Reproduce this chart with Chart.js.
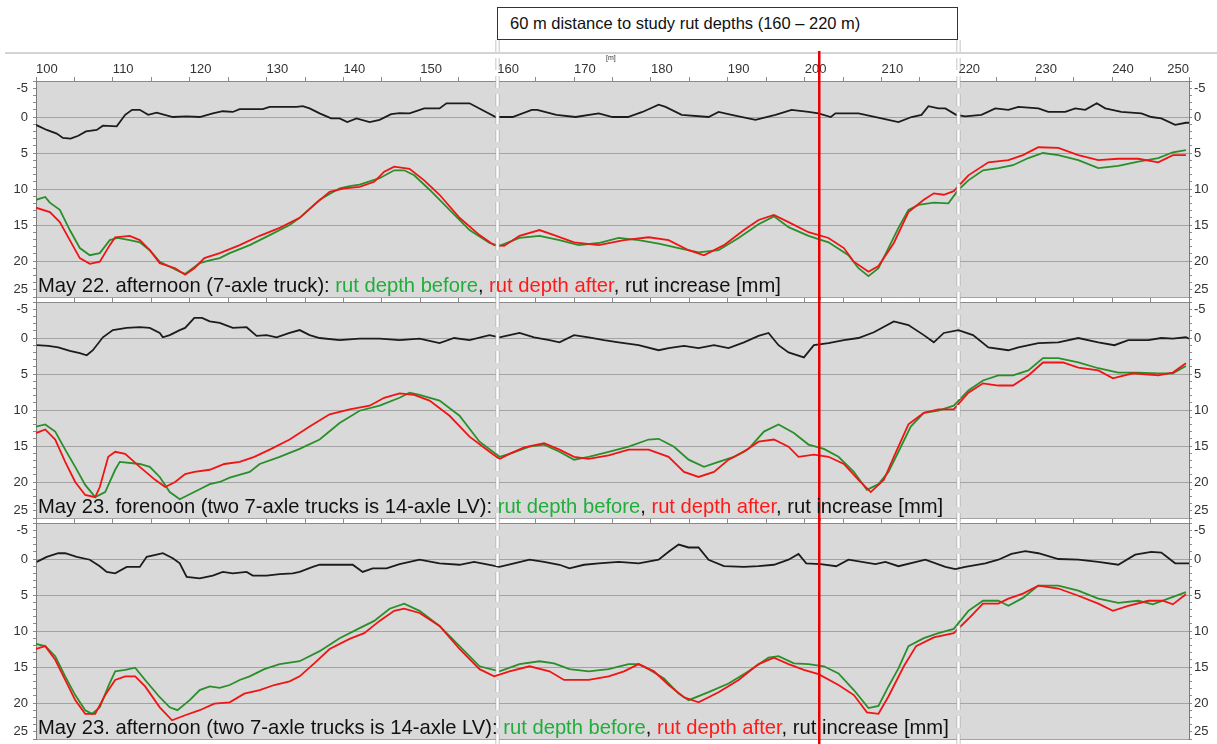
<!DOCTYPE html>
<html>
<head>
<meta charset="utf-8">
<script src="https://cdn.jsdelivr.net/npm/chart.js@4.4.0/dist/chart.umd.min.js"></script>
<style>
  html, body { margin: 0; padding: 0; background: #fff; }
  #wrap { position: relative; width: 1217px; height: 744px; overflow: hidden;
          font-family: "Liberation Sans", Arial, sans-serif; }
  #wrap canvas { position: absolute; left: 0; }
  .rule { position: absolute; left: 5px; right: 0; top: 52px; height: 2px; background: #d4d4d4; }
  .box { position: absolute; left: 497px; top: 7px; width: 461px; height: 33px;
         border: 1px solid #333; box-sizing: border-box; background: #fff;
         font-size: 16.5px; line-height: 30px; padding-left: 12px; color: #111; white-space: nowrap; }
  .unit { position: absolute; left: 606px; top: 54px; font-size: 7px; color: #333; }
  .cap { position: absolute; left: 38px; font-size: 20.2px; line-height: 20px; white-space: nowrap; color: #111; }
  .g { color: #1fae3a; }
  .r { color: #ff1a1a; }
</style>
</head>
<body>
<div id="wrap">
  <div class="rule"></div>
  <div class="box">60 m distance to study rut depths (160 – 220 m)</div>
  <canvas id="c1" width="1217" height="300" style="top:0px"></canvas>
  <canvas id="c2" width="1217" height="224" style="top:297px"></canvas>
  <canvas id="c3" width="1217" height="226" style="top:518px"></canvas>
  <div class="unit">[m]</div>
  <div class="cap" style="top:275px">May 22. afternoon (7-axle truck): <span class="g">rut depth before</span>, <span class="r">rut depth after</span>, rut increase [mm]</div>
  <div class="cap" style="top:496px">May 23. forenoon (two 7-axle trucks is 14-axle LV): <span class="g">rut depth before</span>, <span class="r">rut depth after</span>, rut increase [mm]</div>
  <div class="cap" style="top:717px">May 23. afternoon (two 7-axle trucks is 14-axle LV): <span class="g">rut depth before</span>, <span class="r">rut depth after</span>, rut increase [mm]</div>
</div>
<script>
// Distance axis (m) and depth axis (mm, drawn downwards)
const distRange = [100, 250];
const distStep = 5;
const depthRange = [-5, 25];
const depthLabelStep = 5;

// Study section borders and the marked station (m)
const studySection = [160, 220];
const markedStation = 201.9;

// ---- May 22, afternoon (7-axle truck): [distance m, depth mm]
const p1Increase = [[100,1.1],[101.4,1.8],[102.7,2.3],[103.5,2.9],[104.5,3.0],[105.5,2.6],[106.5,2.0],[107.9,1.8],[108.7,1.2],[110.5,1.3],[111.6,-0.3],[112.5,-1],[113.5,-1],[114.6,-0.3],[115.7,-0.6],[117.8,0],[119.6,-0.1],[121.3,0],[123,-0.5],[124.3,-0.8],[125.6,-0.7],[126.5,-1.1],[129.5,-1.1],[130.4,-1.4],[133.9,-1.4],[134.7,-1.5],[135.6,-1.2],[136.9,-0.5],[138.4,0.2],[139.5,0.2],[140.5,0.7],[141.7,0.2],[143.4,0.7],[144.7,0.4],[146.2,-0.4],[147.3,-0.55],[148.6,-0.5],[150.5,-1.2],[152.5,-1.2],[153.4,-1.9],[156.4,-1.9],[159.8,0],[162,0],[164.5,-1],[165.2,-1],[167.7,-0.3],[170.2,0],[173.2,-0.5],[175,0],[177,0],[178.9,-0.7],[181,-1.7],[181.9,-1.4],[184,-0.3],[187.5,0],[188.8,-0.7],[190.5,-0.3],[193.6,0.4],[196.2,-0.3],[198.3,-1],[200.5,-0.7],[201.8,-0.5],[203.4,0],[204,-0.5],[207,-0.5],[210,0.2],[212.2,0.7],[213.9,0],[215.2,-0.3],[216.1,-1.5],[217.4,-1.2],[218.3,-1.2],[219.7,-0.3],[220.9,-0.1],[223,-0.3],[224.8,-1.2],[226.5,-1],[227.8,-1.4],[230.4,-1.2],[231.7,-0.7],[233.9,-0.7],[235.2,-1.2],[236.5,-1],[238,-1.9],[239.1,-1.2],[241.2,-0.7],[243.8,-0.5],[245.1,0],[246.4,0.2],[248.2,1.1],[249.6,0.8],[250,0.8]];
const p1Before = [[100,11.5],[101.2,11.1],[101.8,11.9],[103.1,12.9],[104.4,15.7],[105.7,18.2],[107,19.2],[108.3,18.9],[109.6,17.1],[110.6,16.8],[112.2,17.1],[113.5,17.4],[114.8,18.5],[116.1,20.1],[117.4,20.8],[118.7,21.5],[119.4,21.8],[120,21.3],[121.3,20.3],[122.6,19.9],[123.9,19.6],[125.2,18.9],[127.8,17.8],[130.4,16.4],[133,15],[134.3,14],[136.9,11.5],[139.5,9.9],[140.8,9.6],[142.1,9.4],[144.7,8.5],[146.6,7.4],[147.9,7.4],[149.2,8.1],[151.2,10.1],[153.8,12.9],[156.4,15.7],[159,17.5],[160.3,17.9],[162.9,16.8],[165.5,16.5],[168.1,17.1],[170.6,17.8],[173.2,17.5],[175.8,16.8],[178.4,17.1],[181,17.6],[183.6,18.2],[186.2,18.8],[188.8,18.5],[191.4,16.8],[194,14.9],[196,13.8],[197.9,15.3],[200.5,16.5],[203.1,17.4],[205.7,19.2],[207,21],[208.3,22.1],[209.6,21],[210.9,18.2],[212.2,15.4],[213.5,12.9],[214.8,12.2],[216.8,11.9],[218.7,12],[220,10.1],[221.3,8.8],[223.2,7.4],[225.2,7.1],[227.1,6.7],[229.1,5.7],[231,5],[233,5.3],[235.6,6],[238.2,7.1],[240.8,6.8],[243.4,6.2],[246,5.7],[247.9,4.9],[249.6,4.6]];
const p1After = [[100,12.6],[101.8,13.2],[103.1,14.6],[104.4,17.1],[105.7,19.6],[107,20.4],[108.3,20.1],[109.6,17.8],[110.3,16.7],[112.2,16.5],[113.5,17.1],[114.8,18.5],[116.1,20.3],[118.1,21],[119.4,21.9],[120.6,21],[121.9,19.6],[123.9,18.9],[126.5,17.8],[129.1,16.5],[131.7,15.4],[134.3,14],[136.2,12.2],[138.2,10.4],[140.1,9.9],[142.1,9.7],[144,9],[145.3,7.6],[146.6,6.9],[148.6,7.2],[150.5,8.8],[152.5,10.8],[155.1,14],[157.7,16.4],[159.6,17.8],[160.9,17.9],[162.9,16.5],[165.5,15.7],[167.4,16.4],[170,17.4],[173.2,17.8],[176.5,17.1],[179.7,16.7],[182.3,17.1],[184.9,18.5],[186.9,19.2],[189.5,17.8],[192.1,15.7],[194,14.3],[196,13.6],[197.9,14.6],[200.5,16],[203.1,16.8],[205.1,18.2],[206.4,20.1],[208.3,21.5],[209.6,20.7],[211.6,17.5],[213.5,13.2],[215.5,11.5],[216.8,10.6],[218.1,10.8],[219.4,10.3],[221.3,8.1],[223.9,6.3],[226.5,6],[228.4,5.3],[230.4,4.2],[233,4.3],[235.6,5.3],[238.2,6],[240.8,5.8],[243.4,5.8],[246,6.3],[247.9,5.3],[249.6,5.3]];

// ---- May 23, forenoon (two 7-axle trucks as 14-axle LV)
const p2Increase = [[100.1,1.0],[101.6,1.1],[102.9,1.3],[104.4,1.8],[105.7,2.1],[106.6,2.4],[107.4,1.7],[108.7,-0.1],[110,-1.1],[111.8,-1.4],[113.5,-1.5],[114.8,-1.4],[116.1,-0.7],[116.5,-0.1],[117.4,-0.4],[118.7,-1.1],[119.4,-1.4],[120.6,-2.8],[121.6,-2.8],[122.6,-2.3],[123.9,-2.1],[125.6,-1.4],[127.4,-1.5],[128.7,-0.3],[130,-0.4],[131.3,-0.1],[133,-0.7],[134.3,-1.1],[135.6,-0.4],[136.9,0],[139.5,0.3],[142.1,0.1],[144.7,0.1],[147.3,0.3],[149.9,0.1],[152.5,0.7],[154.4,0],[156.4,0.3],[159,-0.4],[160.3,-0.1],[161.6,-0.4],[162.9,-0.7],[164.8,-0.1],[166.8,0.3],[168.1,0.6],[170,-0.4],[171.9,-0.1],[173.9,0.3],[175.8,0.6],[178.4,1],[181,1.7],[182.3,1.4],[184.3,1.1],[186.2,1.4],[188.2,1],[190.1,1.4],[192.1,0.6],[194,-0.3],[195.3,-0.7],[196.6,1],[197.9,2],[199.9,2.7],[201.2,1],[203.1,0.7],[205.1,0.3],[207,0],[209,-0.8],[211.6,-2.3],[213.5,-1.8],[215.5,-0.4],[216.8,0.6],[218.1,-0.7],[220,-1.1],[221.9,-0.4],[223.9,1.3],[226.5,1.7],[227.8,1.3],[230.4,0.7],[233,0.6],[235.6,0],[238.2,0.6],[240.3,1],[242.1,0.3],[244.7,0.3],[246.4,0],[247.9,0.1],[249.6,-0.1],[250,0.1]];
const p2Before = [[100,12.3],[101.2,12],[102.5,13],[103.8,15.5],[105.1,17.9],[106.4,20.4],[107.7,22.1],[109,21.4],[110.3,18.3],[110.9,17.2],[113.5,17.5],[114.8,17.9],[116.1,19.3],[117.4,21.4],[118.7,22.4],[120,21.7],[121.3,21],[122.6,20.3],[123.9,20],[125.2,19.4],[127.8,18.6],[129.1,17.5],[131.7,16.5],[134.3,15.4],[136.9,14.1],[139.5,11.8],[142.1,10.1],[144.7,9.4],[147.3,8.3],[148.6,7.6],[149.9,7.9],[152.5,8.7],[155.1,10.8],[157.7,14.4],[160.3,16.5],[161.6,16.1],[164.2,15.1],[166.1,14.8],[168.1,15.8],[170,16.9],[171.9,16.5],[174.5,15.8],[177.1,15.1],[179.7,14.1],[181,14],[183,15.1],[184.9,16.9],[186.9,17.9],[188.8,17.2],[190.8,16.5],[192.7,15.4],[194.7,13],[196.6,12],[198.6,13.2],[200.5,14.8],[202.5,15.4],[204.4,16.5],[206.4,18.6],[208.1,21.1],[209.6,20.3],[210.9,18.6],[212.2,15.8],[213.8,12.3],[215.5,10.4],[217.4,10.1],[219.4,9.4],[221.3,7.3],[223.2,5.9],[225.2,5.2],[227.1,5.2],[229.1,4.5],[231,2.8],[233,2.8],[235.6,3.4],[238.2,4.2],[240.8,4.8],[243.4,4.8],[246,4.9],[247.9,4.9],[249.6,3.9]];
const p2After = [[100,13.2],[101.2,12.7],[102.5,14.1],[103.8,17.2],[105.1,20],[106.4,21.8],[107.7,22.1],[108.3,20.7],[109.4,16.5],[110.3,15.8],[111.6,16.1],[113.5,17.9],[115.5,19.7],[116.8,20.7],[118.1,20],[119.4,18.9],[120.6,18.6],[122.6,18.3],[124.5,17.5],[126.5,17.2],[128.4,16.5],[130.4,15.5],[133,14.1],[135.6,12.3],[138.2,10.6],[140.8,9.9],[143.4,9.4],[145.3,8.3],[147.3,7.7],[149.2,7.9],[151.2,8.7],[153.8,10.8],[156.4,13.7],[159,15.8],[160.3,16.8],[161.6,16.1],[163.5,15.2],[166.1,14.6],[168.1,15.5],[170,16.5],[171.9,16.8],[174.5,16.3],[177.1,15.5],[179.7,15.5],[182.3,16.5],[184.3,18.6],[186.2,19.3],[188.2,18.6],[190.1,16.9],[192.1,15.8],[194,14.4],[196,14.1],[197.9,15.1],[199.2,16.5],[201.2,16.2],[203.1,16.5],[205.1,17.5],[207,19.7],[208.6,21.4],[210.3,19.7],[211.6,16.5],[213.5,12],[215.5,10.4],[217.4,9.9],[219.4,9.9],[221.3,7.6],[223.2,6.3],[225.2,6.6],[227.1,6.6],[229.1,5.2],[231,3.4],[233.6,3.4],[235.6,4.1],[238.2,4.5],[240.1,5.6],[242.7,4.9],[246,5.2],[247.9,4.8],[249.6,3.5]];

// ---- May 23, afternoon (two 7-axle trucks as 14-axle LV)
const p3Increase = [[100.1,0.4],[101.4,-0.3],[102.9,-0.8],[103.8,-0.8],[105.3,-0.3],[107,0.1],[108.3,1],[109.2,1.8],[110.3,2],[111.8,1.1],[113.5,1.1],[114.4,-0.3],[115.7,-0.6],[116.5,-0.8],[117.8,-0.1],[118.7,0.6],[119.6,2.5],[121.3,2.7],[123,2.3],[124.3,1.8],[125.6,2],[127.4,1.8],[128.2,2.3],[130,2.3],[131.7,2.1],[133.4,2],[134.3,1.8],[136,1.1],[136.9,0.8],[138.6,0.8],[141.2,0.8],[142.5,1.8],[143.8,1.3],[145.6,1.3],[147.3,0.7],[148.6,0.4],[149.9,0.1],[152.5,0.6],[155.1,0.8],[157,0.4],[159,0.8],[160.3,1.1],[162.2,0.6],[164.2,0.1],[166.1,0.4],[168.1,0.8],[169.4,1.3],[171.3,0.8],[173.2,0.6],[175.8,0.4],[178.4,0.6],[181,0.1],[182.3,-1],[183.6,-2],[184.9,-1.6],[186.2,-1.6],[187.5,0.1],[189.5,1],[192.1,1.1],[194,1],[196,0.8],[197.9,0.1],[199.2,-0.7],[200.2,0.6],[202.1,0.7],[204.1,1],[205.7,0.1],[209.2,0.7],[210.5,0.4],[212.2,1],[215.7,0.1],[218.3,1.1],[219.6,1.4],[220.9,1.1],[223.5,0.6],[225.2,0.1],[226.9,-0.7],[228.7,-1.1],[230.4,-0.8],[233,0],[235.6,0.1],[238.2,0.4],[240.8,0.8],[243,-0.6],[245.1,-1],[246.4,-0.9],[248.2,0.6],[250,0.6]];
const p3Before = [[100,11.8],[101.2,12.1],[102.5,13.5],[103.8,16.3],[105.1,18.9],[106.4,21],[107.3,21.5],[108.3,20.6],[109.4,17.7],[110.3,15.6],[111.6,15.4],[112.9,15.1],[114.2,16.8],[116.1,19.2],[117.4,20.6],[118.4,21],[120,19.6],[121.3,18.2],[122.6,17.7],[123.9,17.9],[125.2,17.5],[126.5,16.8],[127.8,16.3],[129.7,15.3],[131.7,14.6],[134.3,14.2],[136.9,12.8],[139.5,11],[142.1,9.6],[144,8.6],[146,6.9],[147.9,6.2],[149.9,7.2],[152.5,9.3],[155.1,12.1],[157.7,14.9],[160.3,15.6],[162.9,14.6],[165.5,14.2],[167.4,14.5],[169.4,15.3],[171.9,15.6],[174.5,15.3],[177.1,14.6],[178.4,14.6],[179.7,15.3],[181.7,16.6],[183.6,18.7],[184.9,19.6],[187.5,18.5],[190.1,17.3],[192.7,15.6],[195.3,13.7],[196.6,13.5],[198.6,14.5],[200.5,14.6],[202.5,14.9],[204.4,15.9],[206.4,18.2],[208.3,20.7],[209.6,20.4],[210.9,17.7],[212.2,15.2],[213.5,12.1],[215.5,11],[217.4,10.3],[219.4,9.7],[221.3,7.2],[223.2,5.8],[225.2,5.8],[226.5,6.5],[228.4,5.4],[230.4,3.7],[233,3.7],[235.6,4.4],[238.2,5.5],[240.8,6.1],[243.4,5.8],[245.3,6.3],[247.3,5.5],[249.6,4.6]];
const p3After = [[100,12.5],[101.2,12.1],[102.5,14],[103.8,16.8],[105.1,19.6],[106.4,21.5],[107.7,21.5],[109,18.9],[110.3,16.8],[111.6,16.3],[112.9,16.3],[114.2,17.7],[116.1,20.6],[117.7,22.4],[119.4,21.7],[121.3,21],[123.2,20.1],[125.2,19.9],[127.1,18.7],[129.1,18.2],[131,17.5],[133,17],[134.3,16.3],[136.2,14.5],[138.2,12.5],[140.8,11.1],[142.7,10.3],[144.7,8.6],[146.6,7.2],[147.9,6.9],[149.9,7.5],[152.5,9.3],[155.1,12.5],[157.7,15.3],[159.6,16.3],[161.6,15.6],[164.2,14.9],[166.8,15.6],[168.7,16.8],[171.9,16.8],[174.5,16.3],[176.5,15.6],[178.4,14.6],[180.4,15.6],[182.3,17.5],[184.3,19.2],[186.2,19.9],[188.8,18.5],[191.4,16.8],[194,14.6],[196,13.7],[197.9,14.6],[199.9,15.4],[201.8,16],[204.4,17.5],[206.4,18.9],[208.1,21.3],[209.6,21.5],[210.9,19.1],[212.9,14.9],[214.5,12.1],[216.8,10.9],[219.4,10.3],[221.3,8.3],[223.2,6.2],[225.2,6.2],[226.5,5.5],[228.4,4.8],[230.4,3.7],[233,4.1],[235.6,5.1],[238.2,6.2],[240.1,7.2],[242.1,6.5],[244.7,5.8],[246.6,5.8],[247.9,6.3],[249.6,4.9]];

const FONT = '"Liberation Sans", Arial, sans-serif';
const COL_INC = '#1c1c1c';
const COL_BEFORE = '#2a8f2a';
const COL_AFTER = '#f01414';

const toXY = arr => arr.map(([x, y]) => ({ x, y }));

function series(points, color) {
  return {
    data: toXY(points),
    borderColor: color,
    borderWidth: 1.8,
    pointRadius: 0,
    tension: 0,
    fill: false
  };
}

// Gray plot face plus the study-section markers and the station line
const panelDecor = {
  id: 'panelDecor',
  beforeDraw(chart) {
    const { ctx, chartArea: a } = chart;
    ctx.save();
    ctx.fillStyle = '#d9d9d9';
    ctx.fillRect(a.left, a.top, a.right - a.left, a.bottom - a.top);
    ctx.restore();
    // last distance label sits inside the right edge
    const xs = chart.scales.x;
    if (xs.options.ticks.display) {
      const items = xs.getLabelItems();
      const last = items[items.length - 1];
      if (last && last.options) last.options.textAlign = 'right';
    }
  },
  afterDatasetsDraw(chart, args, opts) {
    const { ctx } = chart;
    const xs = chart.scales.x;
    const h = chart.height;
    ctx.save();
    studySection.forEach(d => {
      const px = Math.round(xs.getPixelForValue(d)) + 0.5;
      ctx.setLineDash([12, 6]);
      ctx.strokeStyle = 'rgba(170,170,170,0.9)';
      ctx.lineWidth = 4;
      ctx.beginPath(); ctx.moveTo(px, opts.dashTop || 0); ctx.lineTo(px, h); ctx.stroke();
      ctx.strokeStyle = '#ffffff';
      ctx.lineWidth = 2.5;
      ctx.beginPath(); ctx.moveTo(px, opts.dashTop || 0); ctx.lineTo(px, h); ctx.stroke();
    });
    ctx.setLineDash([]);
    const rx = xs.getPixelForValue(markedStation);
    ctx.strokeStyle = '#e60000';
    ctx.lineWidth = 2.5;
    ctx.beginPath(); ctx.moveTo(rx, opts.redTop || 0); ctx.lineTo(rx, h); ctx.stroke();
    ctx.restore();
  }
};

function depthLabel(v) {
  if (v === depthRange[0]) return ['', String(v)];
  if (v === depthRange[1]) return [String(v), ''];
  return v % depthLabelStep === 0 ? String(v) : '';
}

// Keep the plot face at full height: edge labels may hang past the axis ends
function fixDepthAxis(width) {
  return s => { s.width = width; s.paddingTop = 0; s.paddingBottom = 0; };
}

function makePanel(id, datasets, cfg) {
  const yCommon = {
    type: 'linear', reverse: true, min: depthRange[0], max: depthRange[1],
    ticks: { stepSize: 1, maxTicksLimit: 1000, autoSkip: false, callback: depthLabel,
             font: { family: FONT, size: 13 }, color: '#333', padding: 5 },
    border: { color: '#7a7a7a', width: 1 }
  };
  return new Chart(document.getElementById(id), {
    type: 'line',
    data: { datasets },
    options: {
      responsive: false, animation: false, devicePixelRatio: 1,
      layout: { padding: { top: cfg.padTop, bottom: cfg.padBottom, left: 0, right: 0 } },
      plugins: { legend: { display: false }, tooltip: { enabled: false },
                 panelDecor: { dashTop: cfg.dashTop, redTop: cfg.redTop } },
      scales: {
        x: {
          type: 'linear', position: 'top', min: distRange[0], max: distRange[1],
          ticks: { stepSize: distStep, maxTicksLimit: 1000, autoSkip: false, maxRotation: 0,
                   align: 'start', display: cfg.showDist, padding: 0,
                   callback: v => (v % 10 === 0 ? String(v) : ''),
                   font: { family: FONT, size: 13 }, color: '#333' },
          grid: { drawOnChartArea: false, drawTicks: true, tickLength: 4, tickColor: '#8a8a8a' },
          border: { color: '#8a8a8a', width: 1 },
          afterFit: s => { s.height = cfg.axisH; s.paddingLeft = 0; s.paddingRight = 0; }
        },
        y: Object.assign({}, yCommon, {
          position: 'left',
          grid: { color: c => (c.tick && c.tick.value % depthLabelStep === 0 ? '#a3a3a3' : 'rgba(0,0,0,0)'),
                  tickColor: '#8a8a8a', tickLength: 3, lineWidth: 1 },
          afterFit: fixDepthAxis(36)
        }),
        y2: Object.assign({}, yCommon, {
          position: 'right',
          ticks: Object.assign({}, yCommon.ticks, { padding: 2 }),
          grid: { drawOnChartArea: false, tickColor: '#8a8a8a', tickLength: 3 },
          afterFit: fixDepthAxis(28)
        })
      }
    },
    plugins: [panelDecor]
  });
}

function panelSets(inc, before, after) {
  return [series(after, COL_AFTER), series(before, COL_BEFORE), series(inc, COL_INC)];
}

makePanel('c1', panelSets(p1Increase, p1Before, p1After),
  { padTop: 50, padBottom: 3, axisH: 31, showDist: true, dashTop: 40, redTop: 51 });
makePanel('c2', panelSets(p2Increase, p2Before, p2After),
  { padTop: 0, padBottom: 3, axisH: 5, showDist: false, dashTop: 0, redTop: 0 });
makePanel('c3', panelSets(p3Increase, p3Before, p3After),
  { padTop: 0, padBottom: 5, axisH: 5, showDist: false, dashTop: 0, redTop: 0 });
</script>
</body>
</html>
